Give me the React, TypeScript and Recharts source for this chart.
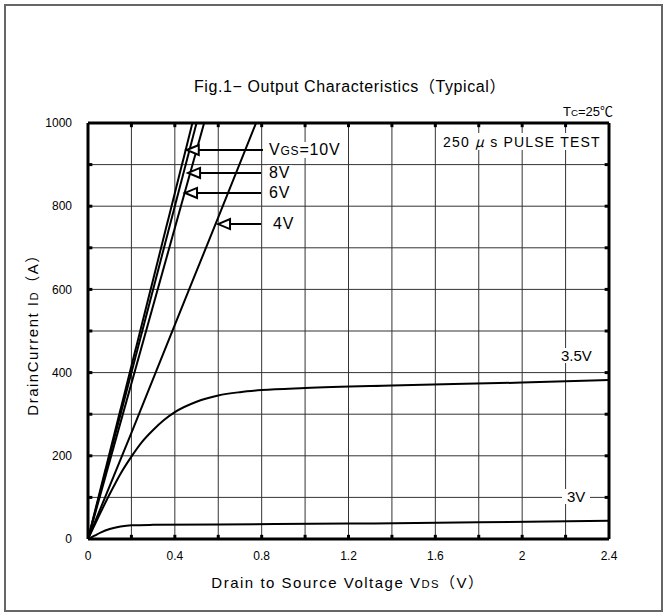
import React from 'react';
import { LineChart, Line, XAxis, YAxis, CartesianGrid, ReferenceLine, ReferenceDot } from 'recharts';

// ---- data ----
const xTicks = [0, 0.2, 0.4, 0.6, 0.8, 1.0, 1.2, 1.4, 1.6, 1.8, 2.0, 2.2, 2.4];
const xTickLabels = ['0', '', '0.4', '', '0.8', '', '1.2', '', '1.6', '', '2', '', '2.4'];
const yTicks = [0, 100, 200, 300, 400, 500, 600, 700, 800, 900, 1000];
const yTickLabels = ['0', '', '200', '', '400', '', '600', '', '800', '', '1000'];

const vds10 = [0, 0.481];
const id10 = [0, 1000];
const vds8 = [0, 0.5];
const id8 = [0, 1000];
const vds6 = [0, 0.535];
const id6 = [0, 1000];
const vds4 = [0, 0.2, 0.4, 0.6, 0.774];
const id4 = [0, 255, 515, 773, 1000];
const vds35 = [0, 0.05, 0.1, 0.15, 0.2, 0.25, 0.3, 0.35, 0.4, 0.5, 0.6, 0.7, 0.8, 1.0, 1.4, 2.0, 2.4];
const id35 = [0, 55, 108, 157, 198, 234, 262, 286, 305, 330, 345, 353, 358, 363, 369, 376, 382];
const vds3 = [0, 0.03, 0.06, 0.1, 0.15, 0.2, 0.3, 0.6, 1.2, 1.8, 2.4];
const id3 = [0, 8, 16, 24, 30, 33, 34, 35, 37, 40, 44];

const arrowTipV = [0.455, 0.461, 0.447, 0.599];
const arrowTipI = [935, 880, 832, 757];
const arrowTailV = [0.806, 0.797, 0.797, 0.797];

const toRows = (xs: number[], ys: number[]) => xs.map((v, i) => ({ v, i: ys[i] }));

const FONT = '"Liberation Sans", Arial, "Noto Sans CJK JP", sans-serif';

const ArrowHead = (props: any) => {
  const { cx, cy } = props;
  return (
    <polygon
      points={`${cx},${cy} ${cx + 12},${cy - 5} ${cx + 12},${cy + 5}`}
      fill="#fff"
      stroke="#000"
      strokeWidth={2}
    />
  );
};

const txt = (left: number, top: number, extra: React.CSSProperties = {}): React.CSSProperties => ({
  position: 'absolute',
  left,
  top,
  fontFamily: FONT,
  color: '#000',
  whiteSpace: 'nowrap',
  lineHeight: 1,
  ...extra,
});

const sub: React.CSSProperties = { fontSize: '0.75em' };

export default function App() {
  const series = [
    { key: '10', rows: toRows(vds10, id10) },
    { key: '8', rows: toRows(vds8, id8) },
    { key: '6', rows: toRows(vds6, id6) },
    { key: '4', rows: toRows(vds4, id4) },
    { key: '3.5', rows: toRows(vds35, id35) },
    { key: '3', rows: toRows(vds3, id3) },
  ];
  return (
    <div style={{ position: 'absolute', left: 0, top: 0, width: 667, height: 612, background: '#fff' }}>
      <div
        style={{
          position: 'absolute',
          left: 4,
          top: 4,
          width: 659,
          height: 608,
          border: '2px solid #666',
          boxSizing: 'border-box',
        }}
      />
      <div style={{ position: 'absolute', left: 0, top: 0 }}>
        <LineChart width={667} height={612} margin={{ top: 123, right: 58, bottom: 53, left: 48 }}>
          <CartesianGrid stroke="#333" strokeWidth={1} />
          <XAxis
            type="number"
            dataKey="v"
            domain={[0, 2.4]}
            ticks={xTicks}
            tickFormatter={(t: number) => xTickLabels[xTicks.findIndex((x) => Math.abs(x - t) < 1e-6)] ?? ''}
            interval={0}
            tickLine={false}
            axisLine={{ stroke: '#000', strokeWidth: 3 }}
            tick={{ fontSize: 12, fill: '#000', fontFamily: FONT }}
            tickMargin={6}
            height={20}
            allowDataOverflow
          />
          <YAxis
            type="number"
            domain={[0, 1000]}
            ticks={yTicks}
            tickFormatter={(t: number) => yTickLabels[yTicks.indexOf(t)] ?? ''}
            interval={0}
            tickLine={false}
            axisLine={{ stroke: '#000', strokeWidth: 3 }}
            tick={{ fontSize: 12, fill: '#000', fontFamily: FONT }}
            tickMargin={10}
            width={40}
            allowDataOverflow
          />
          <ReferenceLine y={1000} stroke="#000" strokeWidth={3} />
          <ReferenceLine x={2.4} stroke="#000" strokeWidth={3} />
          {xTicks.slice(1, -1).map((t) => (
            <ReferenceLine key={'bt' + t} segment={[{ x: t, y: 0 }, { x: t, y: 10 }]} stroke="#000" strokeWidth={3} />
          ))}
          {xTicks.slice(1, -1).map((t) => (
            <ReferenceLine key={'tt' + t} segment={[{ x: t, y: 1000 }, { x: t, y: 990 }]} stroke="#000" strokeWidth={3} />
          ))}
          {yTicks.slice(1, -1).map((t) => (
            <ReferenceLine key={'lt' + t} segment={[{ x: 0, y: t }, { x: 0.02, y: t }]} stroke="#000" strokeWidth={3} />
          ))}
          {yTicks.slice(1, -1).map((t) => (
            <ReferenceLine key={'rt' + t} segment={[{ x: 2.4, y: t }, { x: 2.38, y: t }]} stroke="#000" strokeWidth={3} />
          ))}
          {series.map((s) => (
            <Line
              key={s.key}
              data={s.rows}
              dataKey="i"
              type="monotone"
              stroke="#000"
              strokeWidth={2}
              dot={false}
              activeDot={false}
              isAnimationActive={false}
            />
          ))}
          {arrowTipV.map((v, k) => (
            <ReferenceLine
              key={'as' + k}
              segment={[{ x: v + 0.04, y: arrowTipI[k] }, { x: arrowTailV[k], y: arrowTipI[k] }]}
              stroke="#000"
              strokeWidth={2}
            />
          ))}
          {arrowTipV.map((v, k) => (
            <ReferenceDot key={'ah' + k} x={v} y={arrowTipI[k]} r={0} shape={ArrowHead} />
          ))}
        </LineChart>
      </div>

      <div style={txt(350, 79, { fontSize: 16, letterSpacing: 0.6, transform: 'translateX(-50%)' })}>
        Fig.1− Output Characteristics（Typical）
      </div>
      <div style={txt(563, 105, { fontSize: 13 })}>
        T<span style={sub}>C</span>=25℃
      </div>
      <div style={txt(440, 133, { fontSize: 14, letterSpacing: 1.2, background: '#fff', padding: '1px 3px' })}>
        250 <span style={{ fontFamily: '"Noto Sans CJK JP"', fontStyle: 'italic' }}>μ</span> s PULSE TEST
      </div>
      <div style={txt(267, 142, { fontSize: 16, letterSpacing: 0.8, background: '#fff', padding: '0 2px' })}>
        V<span style={sub}>GS</span>=10V
      </div>
      <div style={txt(267, 165, { fontSize: 16, letterSpacing: 0.8, background: '#fff', padding: '0 2px' })}>8V</div>
      <div style={txt(267, 185, { fontSize: 16, letterSpacing: 0.8, background: '#fff', padding: '0 2px' })}>6V</div>
      <div style={txt(271, 216, { fontSize: 16, letterSpacing: 0.8, background: '#fff', padding: '0 2px' })}>4V</div>
      <div style={txt(558, 348, { fontSize: 15, background: '#fff', padding: '0 3px' })}>3.5V</div>
      <div style={txt(562, 489, { fontSize: 15, background: '#fff', padding: '0 5px' })}>3V</div>

      <div
        style={txt(33, 331, {
          fontSize: 15,
          letterSpacing: 1.5,
          transform: 'translate(-50%, -50%) rotate(-90deg)',
        })}
      >
        DrainCurrent I<span style={sub}>D</span>（A）
      </div>
      <div style={txt(348, 575, { fontSize: 15, letterSpacing: 1.5, transform: 'translateX(-50%)' })}>
        Drain to Source Voltage V<span style={sub}>DS</span>（V）
      </div>
    </div>
  );
}
